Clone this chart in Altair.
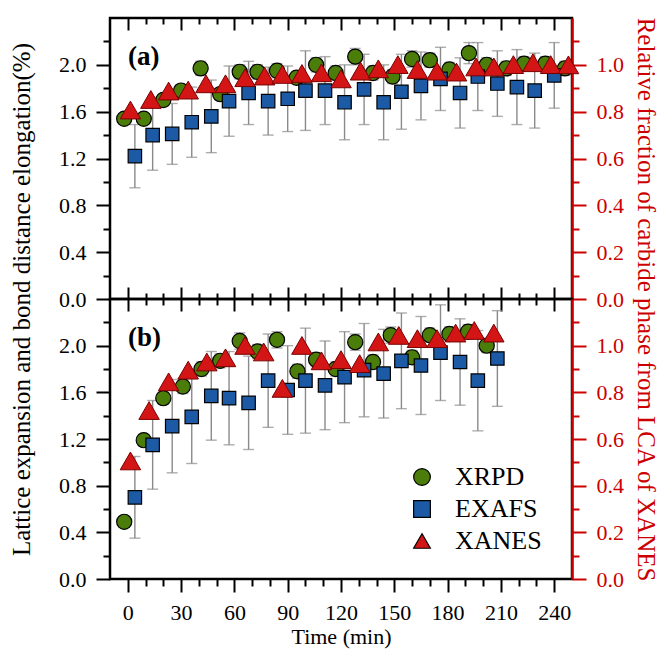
import altair as alt
import pandas as pd

# ---------------- data ----------------
# Panel (a)
t_xrpd_a = [-2, 9, 20, 30, 41, 52, 63, 73, 84, 95, 106, 117, 128, 138, 149, 160, 170, 181, 192, 202, 213, 223, 235, 246]
v_xrpd_a = [1.54, 1.54, 1.70, 1.78, 1.97, 1.75, 1.94, 1.94, 1.95, 1.89, 2.00, 1.93, 2.07, 1.93, 1.90, 2.05, 2.04, 1.96, 2.10, 2.00, 1.97, 2.01, 2.01, 1.97]
e_xrpd_a = [0.04, 0.04, 0.05, 0.05, 0.06, 0.05, 0.06, 0.06, 0.06, 0.05, 0.06, 0.06, 0.07, 0.06, 0.06, 0.07, 0.06, 0.06, 0.09, 0.06, 0.06, 0.06, 0.06, 0.06]

t_exafs_a = [4, 14, 25, 36, 47, 57, 68, 79, 90, 100, 111, 122, 133, 144, 154, 165, 176, 187, 197, 208, 219, 229, 240]
v_exafs_a = [1.22, 1.40, 1.41, 1.51, 1.56, 1.69, 1.76, 1.69, 1.71, 1.78, 1.78, 1.68, 1.79, 1.68, 1.77, 1.82, 1.88, 1.76, 1.90, 1.84, 1.81, 1.78, 1.91]
e_exafs_a = [0.27, 0.30, 0.26, 0.30, 0.31, 0.30, 0.27, 0.29, 0.28, 0.34, 0.29, 0.32, 0.30, 0.32, 0.32, 0.29, 0.27, 0.30, 0.29, 0.28, 0.32, 0.32, 0.28]

t_xanes_a = [1.5, 13, 23, 34, 44, 55, 66, 77, 87, 98, 109, 120, 131, 141, 152, 163, 174, 185, 196, 206, 217, 228, 238, 248]
v_xanes_a = [0.807, 0.852, 0.888, 0.892, 0.919, 0.919, 0.945, 0.952, 0.959, 0.963, 0.966, 0.940, 0.973, 0.983, 1.001, 0.980, 0.973, 0.969, 0.991, 0.991, 1.001, 1.009, 1.001, 1.000]

# Panel (b)
t_xrpd_b = [-2, 9, 20, 31, 41.5, 52, 63, 73, 84, 95.5, 106, 117, 128, 138, 148, 160, 170, 181, 191.5, 202]
v_xrpd_b = [0.49, 1.19, 1.55, 1.65, 1.80, 1.87, 2.04, 1.95, 2.05, 1.78, 1.88, 1.80, 2.03, 1.86, 2.09, 1.90, 2.09, 2.10, 2.12, 2.00]
e_xrpd_b = [0.04, 0.05, 0.05, 0.06, 0.06, 0.06, 0.07, 0.06, 0.07, 0.06, 0.06, 0.06, 0.07, 0.06, 0.07, 0.06, 0.06, 0.06, 0.06, 0.06]

t_exafs_b = [4, 14, 25, 36, 47, 57, 68, 79, 90, 100, 111, 122, 133, 144, 154, 165, 176, 187, 197, 208]
v_exafs_b = [0.70, 1.15, 1.31, 1.39, 1.57, 1.55, 1.51, 1.70, 1.62, 1.70, 1.66, 1.73, 1.79, 1.76, 1.87, 1.83, 1.94, 1.86, 1.70, 1.89]
e_exafs_b = [0.35, 0.38, 0.40, 0.40, 0.38, 0.40, 0.40, 0.40, 0.38, 0.45, 0.38, 0.39, 0.40, 0.38, 0.41, 0.42, 0.41, 0.37, 0.43, 0.41]

t_xanes_b = [1.5, 12, 23, 34, 44.5, 55, 66, 76.5, 87, 98, 109, 120, 130.5, 141, 152.5, 163, 174, 184.5, 195, 206]
v_xanes_b = [0.506, 0.722, 0.845, 0.895, 0.930, 0.948, 1.001, 0.973, 0.817, 1.001, 0.935, 0.940, 0.923, 1.016, 1.044, 1.030, 1.030, 1.054, 1.065, 1.054]

SERIES = ["XRPD", "EXAFS", "XANES"]
COLORS = ["#4b7d0b", "#1c5aa6", "#d41515"]
SHAPES = ["circle", "square", "triangle-up"]

MAJ_X = [0, 30, 60, 90, 120, 150, 180, 210, 240]
MIN_X = [10, 20, 40, 50, 70, 80, 100, 110, 130, 140, 160, 170, 190, 200, 220, 230]
MAJ_L = [0, 0.4, 0.8, 1.2, 1.6, 2.0]
MIN_L = [0.2, 0.6, 1.0, 1.4, 1.8, 2.2]
MAJ_R = [0, 0.2, 0.4, 0.6, 0.8, 1.0]

# ---------------- style ----------------
FONT = "Liberation Serif"
W, HA, HB = 462, 281, 280
XDOM = [-10, 250]
LDOM = [0, 2.4]
RDOM = [0, 1.2]
RED = "#cc0000"
GRAY = "#8a8a8a"


def frame(t, v, e, name):
    return pd.DataFrame({
        "t": t, "v": v,
        "lo": [a - b for a, b in zip(v, e)],
        "hi": [a + b for a, b in zip(v, e)],
        "series": name,
    })


def caps_of(df):
    lo = df[["t", "lo"]].rename(columns={"lo": "c"})
    hi = df[["t", "hi"]].rename(columns={"hi": "c"})
    return pd.concat([lo, hi], ignore_index=True)


def axis(orient, values, size, labels=False, offset=0, color="black", fmt=None, **kw):
    args = dict(orient=orient, values=values, tickSize=size, labels=labels, offset=offset,
                tickColor=color, tickWidth=2, domain=False, grid=False, ticks=True)
    if labels:
        args.update(labelColor=color, labelFont=FONT, labelFontSize=22)
        if fmt:
            args["format"] = fmt
    args.update(kw)
    return alt.Axis(**args)


def X(field, ax, title=None):
    return alt.X(f"{field}:Q", scale=alt.Scale(domain=XDOM, nice=False, zero=False), axis=ax, title=title)


def Y(field, ax, dom=LDOM, title=None):
    return alt.Y(f"{field}:Q", scale=alt.Scale(domain=dom, nice=False, zero=False), axis=ax, title=title)


def panel(pts, tri, tag, bottom, legend):
    H = HB if bottom else HA
    caps = caps_of(pts)
    if bottom:
        xb_major = axis("bottom", MAJ_X, 13, labels=True, fmt="d", labelPadding=10,
                        titleFont=FONT, titleFontSize=22, titleFontWeight="normal",
                        titleColor="black", titlePadding=3)
        xb_minor = axis("bottom", MIN_X, 7)
        xtitle = "Time (min)"
    else:
        xb_major = axis("bottom", MAJ_X, 12, offset=-12)
        xb_minor = axis("bottom", MIN_X, 6, offset=-6)
        xtitle = None
    xt_major = axis("top", MAJ_X, 12, offset=-12)
    xt_minor = axis("top", MIN_X, 6, offset=-6)

    left_major = axis("left", MAJ_L, 14, labels=True, fmt=".1f", labelPadding=10,
                      titleFont=FONT, titleFontSize=25, titleFontWeight="normal",
                      titleColor="black", titlePadding=24, titleY=H)
    left_minor = axis("left", MIN_L, 7)
    right_minor = axis("right", MIN_L, 7, color=RED)
    right_major = axis("right", MAJ_R, 14, labels=True, fmt=".1f", labelPadding=10, color=RED,
                       domain=True, domainColor=RED, domainWidth=2.5,
                       titleFont=FONT, titleFontSize=25, titleFontWeight="normal",
                       titleColor=RED, titlePadding=9, titleY=H)

    ltitle = None if bottom else "Lattice expansion and bond distance elongation(%)"
    rtitle = None if bottom else "Relative fraction of carbide phase from LCA of XANES"

    color = alt.Color("series:N", scale=alt.Scale(domain=SERIES, range=COLORS), legend=legend)
    shape = alt.Shape("series:N", scale=alt.Scale(domain=SERIES, range=SHAPES), legend=legend)

    circ = pts[pts["series"] == "XRPD"]
    sq = pts[pts["series"] == "EXAFS"]

    rules = alt.Chart(pts).mark_rule(color=GRAY, strokeWidth=1.4).encode(
        x=X("t", xb_major, xtitle), y=Y("lo", left_major, title=ltitle), y2="hi:Q")
    capm = alt.Chart(caps).mark_tick(orient="horizontal", size=11, thickness=1.4, color=GRAY).encode(
        x=X("t", xb_minor), y=Y("c", left_minor))
    circles = alt.Chart(circ).mark_point(filled=True, opacity=1, size=230, stroke="black",
                                         strokeWidth=1.2).encode(
        x=X("t", xt_major), y=Y("v", right_minor), color=color, shape=shape)
    squares = alt.Chart(sq).mark_point(filled=True, opacity=1, size=180, stroke="black",
                                       strokeWidth=1.2).encode(
        x=X("t", None), y=Y("v", None), color=color, shape=shape)
    tris = alt.Chart(tri).mark_point(filled=True, opacity=1, size=420, stroke="#7a0000",
                                     strokeWidth=1).encode(
        x=X("t", xt_minor), y=Y("v", right_major, RDOM, rtitle), color=color, shape=shape)
    label = alt.Chart(pd.DataFrame({"lab": [tag]})).mark_text(
        align="left", baseline="middle", font=FONT, fontSize=27, fontWeight="bold", color="black"
    ).encode(text="lab:N", x=alt.value(18), y=alt.value(39))

    return alt.layer(rules, capm, circles, squares, tris, label).resolve_scale(
        x="independent", y="independent").resolve_axis(
        x="independent", y="independent").properties(width=W, height=H)


pts_a = pd.concat([frame(t_xrpd_a, v_xrpd_a, e_xrpd_a, "XRPD"),
                   frame(t_exafs_a, v_exafs_a, e_exafs_a, "EXAFS")], ignore_index=True)
tri_a = pd.DataFrame({"t": t_xanes_a, "v": v_xanes_a, "series": "XANES"})
pts_b = pd.concat([frame(t_xrpd_b, v_xrpd_b, e_xrpd_b, "XRPD"),
                   frame(t_exafs_b, v_exafs_b, e_exafs_b, "EXAFS")], ignore_index=True)
tri_b = pd.DataFrame({"t": t_xanes_b, "v": v_xanes_b, "series": "XANES"})

leg = alt.Legend(orient="none", legendX=299, legendY=165, title=None, labelFont=FONT,
                 labelFontSize=26, labelColor="black", symbolSize=280, labelOffset=20,
                 rowPadding=6, symbolStrokeWidth=1.2, symbolStrokeColor="black")

pa = panel(pts_a, tri_a, "(a)", False, None)
pb = panel(pts_b, tri_b, "(b)", True, leg)

chart = alt.vconcat(pa, pb, spacing=0, bounds="flush").resolve_scale(
    color="independent", shape="independent").resolve_legend(
    color="independent", shape="independent").properties(
    padding={"left": 0, "top": 7, "right": 0, "bottom": 0}).configure_view(
    stroke="black", strokeWidth=2.5)

chart.save("out.html", embed_options={"renderer": "svg", "actions": False})
